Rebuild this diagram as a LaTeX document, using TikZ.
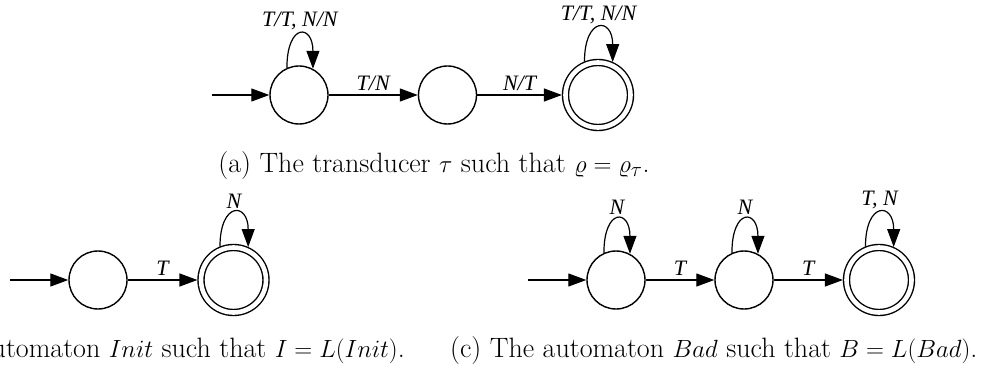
\documentclass[tikz,border=0pt]{standalone}
\usepackage{amsmath}
\usepackage{fontspec}
\usetikzlibrary{arrows.meta}
\newfontfamily\edgefont{Liberation Serif}

\begin{document}
\begin{tikzpicture}[x=1pt,y=-1pt]
        \tikzstyle{state}=[draw, circle, line width=1.4pt, minimum size=58pt, inner sep=0pt]
        \tikzstyle{accepting}=[state, minimum size=65pt, double, double distance=4.6pt, outer sep=3.6pt]
        \tikzstyle{edge}=[line width=1.2pt, -{Triangle[length=18pt,width=13pt]}]
        \tikzstyle{lbl}=[font=\edgefont\itshape\fontsize{22}{26}\selectfont, inner sep=4pt]
        \tikzstyle{caption}=[font=\fontsize{28}{33}\selectfont, inner sep=0pt]

        \useasboundingbox (0,0) rectangle (1001,366);
        \clip (0,0) rectangle (1001,366);

        % (a) transducer
        \coordinate (a)  at (212,95);
        \node   (a0)   [state]     at (299,95)   {};
        \node   (a1)   [state]     at (447.5,95) {};
        \node   (a2)   [accepting] at (598,95)   {};
        \draw[edge] (a) -- (a0);
        \draw[edge] (a0) -- node[lbl, above] {T/N} (a1);
        \draw[edge] (a1) -- node[lbl, above] {N/T} (a2);
        \draw[edge] (a0.114) .. controls +(0,-45) and +(0,-45) .. node[lbl, above] {T/T, N/N} (a0.62);
        \draw[edge] (a2.112) .. controls +(0,-45) and +(0,-45) .. node[lbl, above] {T/T, N/N} (a2.66);
        \node   (capa) [caption, anchor=base] at (434,173) {(a) The transducer $\tau$ such that $\varrho=\varrho_\tau$.};

        % (b) automaton Init
        \coordinate (b)  at (10,280);
        \node   (b0)   [state]     at (98,280)    {};
        \node   (b1)   [accepting] at (233.5,280) {};
        \draw[edge] (b) -- (b0);
        \draw[edge] (b0) -- node[lbl, above] {T} (b1);
        \draw[edge] (b1.112) .. controls +(0,-45) and +(0,-45) .. node[lbl, above] {N} (b1.66);
        \node   (capb) [caption, anchor=base east] at (405,357) {(b) The automaton $Init$ such that $I=L(Init)$.};

        % (c) automaton Bad
        \coordinate (c)  at (528,280);
        \node   (c0)   [state]     at (616,280) {};
        \node   (c1)   [state]     at (744,280) {};
        \node   (c2)   [accepting] at (879,280) {};
        \draw[edge] (c) -- (c0);
        \draw[edge] (c0) -- node[lbl, above] {T} (c1);
        \draw[edge] (c1) -- node[lbl, above] {T} (c2);
        \draw[edge] (c0.114) .. controls +(0,-45) and +(0,-45) .. node[lbl, above] {N} (c0.62);
        \draw[edge] (c1.114) .. controls +(0,-45) and +(0,-45) .. node[lbl, above] {N} (c1.62);
        \draw[edge] (c2.112) .. controls +(0,-45) and +(0,-45) .. node[lbl, above] {T, N} (c2.66);
        \node   (capc) [caption, anchor=base west] at (450,357) {(c) The automaton $Bad$ such that $B=L(Bad)$.};

\end{tikzpicture}
\end{document}
